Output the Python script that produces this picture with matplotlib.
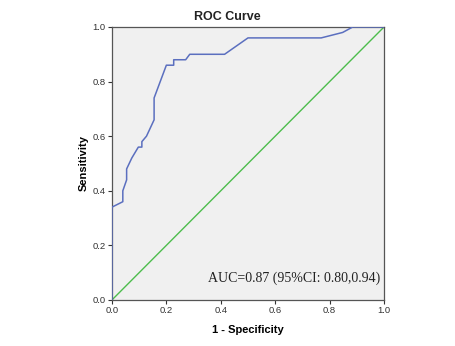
import matplotlib
matplotlib.use("Agg")
import matplotlib.pyplot as plt

# ROC curve points (1 - specificity, sensitivity)
fpr = [0.0, 0.0, 0.04, 0.04, 0.054, 0.054, 0.073, 0.085, 0.097, 0.11, 0.11,
       0.127, 0.155, 0.155, 0.2, 0.227, 0.227, 0.271, 0.286, 0.414, 0.5,
       0.769, 0.848, 0.885, 1.0]
tpr = [0.0, 0.34, 0.36, 0.40, 0.44, 0.48, 0.52, 0.54, 0.56, 0.56, 0.58,
       0.60, 0.66, 0.74, 0.86, 0.86, 0.88, 0.88, 0.90, 0.90, 0.96,
       0.96, 0.98, 1.0, 1.0]
ref_line = [0.0, 1.0]
ticks = [0.0, 0.2, 0.4, 0.6, 0.8, 1.0]
auc_text = "AUC=0.87 (95%CI: 0.80,0.94)"

plt.rcParams['font.family'] = ['Liberation Sans', 'DejaVu Sans']

fig = plt.figure(figsize=(4.55, 3.46), dpi=100)
ax = fig.add_axes([0.246, 0.133, 0.598, 0.789])
ax.set_facecolor("#f0f0f0")

ax.plot(ref_line, ref_line, color="#4dbd4d", linewidth=1.0, zorder=2)
ax.plot(fpr, tpr, color="#5b6fbf", linewidth=1.1, zorder=3)

ax.set_xlim(0, 1)
ax.set_ylim(0, 1)
ax.set_xticks(ticks)
ax.set_yticks(ticks)
ax.set_xticklabels(["%.1f" % t for t in ticks])
ax.set_yticklabels(["%.1f" % t for t in ticks])
ax.tick_params(labelsize=6.8, length=3, width=0.8, colors="#333333", pad=1.5)

for s in ax.spines.values():
    s.set_color("#555555")
    s.set_linewidth(0.9)

ax.text(0.985, 0.08, auc_text, transform=ax.transAxes, ha="right", va="center",
        family="Liberation Serif", fontsize=10, color="#222222")

fig.text(0.5, 0.952, "ROC Curve", ha="center", va="center",
         fontsize=9, fontweight="bold", color="#222222")
ax.set_xlabel("1 - Specificity", fontsize=8, fontweight="bold", labelpad=7)
ax.set_ylabel("Sensitivity", fontsize=8, fontweight="bold", labelpad=3)

fig.savefig("out.png", dpi=100)
